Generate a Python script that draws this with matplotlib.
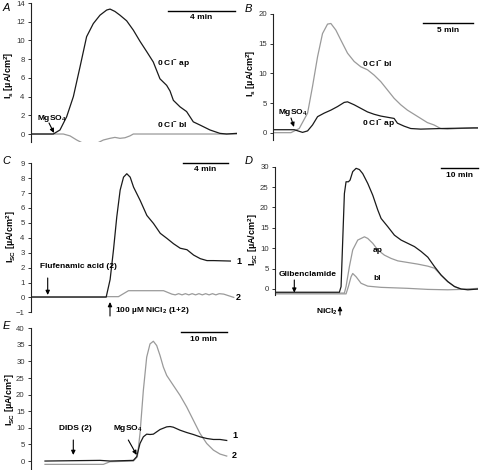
import matplotlib
matplotlib.use("Agg")
import matplotlib.pyplot as plt
from matplotlib.lines import Line2D
from matplotlib.patches import FancyArrowPatch

plt.rcParams['font.family'] = ['Liberation Sans', 'DejaVu Sans']
plt.rcParams['mathtext.fontset'] = 'custom'
plt.rcParams['mathtext.rm'] = 'Liberation Sans:bold'
plt.rcParams['mathtext.bf'] = 'Liberation Sans:bold'
plt.rcParams['mathtext.it'] = 'Liberation Sans:bold:italic'
plt.rcParams['mathtext.sf'] = 'Liberation Sans:bold'

W, H = 482, 470
BLACK = '#1a1a1a'
GRAY = '#9a9a9a'

# ---------------- Panel A ----------------
a_ap_t = [0, 1.33, 1.73, 2.13, 2.53, 2.93, 3.32, 3.72, 4.12, 4.52, 4.72, 5.01, 5.31, 5.71,
          6.11, 6.51, 6.91, 7.30, 7.70, 8.10, 8.30, 8.50, 8.90, 9.29, 9.69, 10.09, 10.69,
          11.28, 11.68, 12.28]
a_ap_v = [0, 0, 0.43, 1.85, 4.0, 7.2, 10.4, 11.8, 12.7, 13.25, 13.35, 13.1, 12.7, 12.1,
          11.1, 9.9, 8.8, 7.7, 5.9, 5.2, 4.6, 3.6, 2.9, 2.4, 1.3, 0.96, 0.43, 0.07, 0, 0.07]
a_bl_t = [0, 1.93, 2.33, 2.73, 3.12, 3.62, 3.92, 4.32, 4.72, 5.01, 5.31, 5.61, 5.91, 6.11, 12.28]
a_bl_v = [0, 0, -0.2, -0.64, -1.0, -1.18, -1.0, -0.64, -0.46, -0.36, -0.46, -0.4, -0.2, 0, 0]
a_ticks = [0, 2, 4, 6, 8, 10, 12, 14]

# ---------------- Panel B ----------------
b_bl_t = [0, 1.75, 2.57, 3.40, 3.89, 4.39, 4.88, 5.38, 5.71, 6.20, 6.70, 7.36, 8.02, 8.68,
          9.34, 10.0, 10.66, 11.32, 11.98, 12.64, 13.30, 13.96, 14.62, 15.28, 15.94, 16.60,
          17.26, 18.25, 19.9, 20.3]
b_bl_v = [0, 0, 0.7, 3.3, 7.8, 12.8, 16.7, 18.3, 18.4, 17.3, 15.6, 13.4, 12.0, 11.1,
          10.6, 9.7, 8.6, 7.2, 5.8, 4.7, 3.8, 3.1, 2.4, 1.7, 1.3, 0.7, 0.6, 0.7, 0.8, 0.8]
b_ap_t = [0, 2.08, 2.90, 3.40, 3.89, 4.39, 5.05, 5.71, 6.37, 7.03, 7.36, 8.02, 8.68, 9.34,
          10.0, 10.66, 11.32, 11.98, 12.31, 12.97, 13.63, 14.62, 16.60, 19.9, 20.3]
b_ap_v = [0.5, 0.5, 0.05, 0.3, 1.3, 2.7, 3.3, 3.8, 4.4, 5.1, 5.2, 4.7, 4.1, 3.5,
          3.1, 2.8, 2.6, 2.4, 1.6, 1.1, 0.7, 0.6, 0.7, 0.8, 0.8]
b_ticks = [0, 5, 10, 15, 20]

# ---------------- Panel C ----------------
c_1_t = [0, 6.67, 7.02, 7.32, 7.61, 7.91, 8.21, 8.50, 8.80, 9.10, 9.69, 10.28, 10.87, 11.47,
         12.06, 12.65, 13.24, 13.84, 14.43, 15.02, 15.61, 16.21, 17.69]
c_1_v = [0.02, 0.02, 1.2, 3.2, 5.4, 7.2, 8.07, 8.3, 8.07, 7.4, 6.5, 5.5, 4.96, 4.3,
         3.96, 3.6, 3.3, 3.2, 2.84, 2.6, 2.47, 2.47, 2.44]
c_2_t = [0, 7.76, 8.65, 11.76, 12.50, 12.8, 13.1, 13.4, 13.7, 14.0, 14.3, 14.6, 14.9, 15.2,
         15.5, 15.8, 16.1, 16.4, 16.7, 17.10, 17.99]
c_2_v = [0.05, 0.05, 0.45, 0.45, 0.22, 0.17, 0.25, 0.17, 0.25, 0.17, 0.25, 0.17, 0.25, 0.17,
         0.25, 0.17, 0.25, 0.17, 0.25, 0.22, 0.0]
c_ticks = [-1, 0, 1, 2, 3, 4, 5, 6, 7, 8, 9]

# ---------------- Panel D ----------------
d_k_t = [0, 17.06, 17.51, 17.95, 18.39, 18.83, 19.45, 19.89, 20.60, 21.49, 22.37, 23.25, 24.58,
         25.91, 27.23, 28.12, 29.88, 31.65, 33.42, 35.19, 36.96, 38.73, 40.50, 42.26, 44.03,
         45.80, 47.57, 49.34, 51.10, 53.93]
d_k_v = [-0.8, -0.8, 0.57, 12, 23.4, 26.3, 26.3, 26.7, 28.8, 29.6, 29.3, 28.3, 25.9,
         23, 19.4, 17.3, 15.3, 13.2, 12, 11.2, 10.4, 9.2, 7.8, 5.5, 3.4,
         1.8, 0.6, 0, -0.2, 0]
d_ap_t = [0, 18.39, 18.83, 19.72, 20.60, 21.93, 23.70, 24.58, 25.91, 27.23, 29.0, 30.77, 32.54,
          35.19, 37.84, 40.50, 42.26, 44.03, 45.80, 47.57, 49.34, 53.93]
d_ap_v = [-1.0, -1.0, 0.6, 5.5, 9.6, 12, 12.8, 12.4, 11.2, 9.6, 8.3, 7.5, 6.9,
          6.5, 6.1, 5.6, 5.1, 3.4, 1.8, 0.6, -0.1, 0]
d_bl_t = [0, 18.83, 19.45, 20.16, 20.60, 21.49, 22.81, 24.58, 28.12, 35.19, 40.50, 45.80,
          49.34, 53.93]
d_bl_v = [-1.2, -1.2, 0.6, 3.0, 3.8, 3.0, 1.4, 0.7, 0.4, 0.16, -0.1, -0.2, -0.1, 0.16]
d_ticks = [0, 5, 10, 15, 20, 25, 30]

# ---------------- Panel E ----------------
e_1_t = [3.06, 15.10, 17.29, 22.39, 23.12, 23.85, 24.58, 25.31, 26.04, 26.77, 28.23, 29.69,
         30.42, 31.14, 32.60, 34.06, 35.52, 36.98, 38.44, 39.90, 41.36, 42.82]
e_1_v = [0, 0.2, 0, 0.2, 1.3, 5.3, 7.3, 8.1, 8, 8.1, 9.5, 10.3,
         10.4, 10.2, 9.3, 8.6, 8, 7.3, 6.8, 6.5, 6.5, 6.2]
e_2_t = [3.06, 15.83, 17.29, 22.39, 23.27, 23.85, 24.58, 25.31, 26.04, 26.77, 27.50, 28.23,
         28.96, 29.69, 31.14, 32.60, 34.06, 35.52, 36.98, 38.44, 39.90, 41.36, 42.82]
e_2_v = [-1.0, -1.0, -0.2, 0, 1.3, 8.3, 21.3, 31.3, 35.3, 36.1, 34.8, 31.8,
         28.3, 25.8, 22.8, 19.8, 16.3, 12.3, 8.3, 5.3, 3.3, 2.1, 1.5]
e_ticks = [0, 5, 10, 15, 20, 25, 30, 35, 40]

fig = plt.figure(figsize=(W / 100, H / 100), dpi=100)


def fx(px):
    return px / W


def fy(py):
    return 1 - py / H


def make_ax(x0, x1, ytop, ybot, xlim, ylim, ticks):
    ax = fig.add_axes([fx(x0), fy(ybot), fx(x1) - fx(x0), fy(ytop) - fy(ybot)])
    ax.set_xlim(*xlim)
    ax.set_ylim(*ylim)
    for s in ['top', 'right', 'bottom']:
        ax.spines[s].set_visible(False)
    ax.spines['left'].set_linewidth(0.8)
    ax.spines['left'].set_color('#222222')
    ax.set_xticks([])
    ax.set_yticks(ticks)
    ax.tick_params(axis='y', labelsize=5.6, length=2.5, width=0.7, pad=2,
                   colors='#333333')
    ax.patch.set_alpha(0)
    return ax


def ftxt(px, py, s, size=6, weight='bold', ha='left', va='center', **kw):
    fig.text(fx(px), fy(py), s, fontsize=size, fontweight=weight, ha=ha, va=va, **kw)


def farrow(x0, y0, x1, y1):
    arr = FancyArrowPatch((fx(x0), fy(y0)), (fx(x1), fy(y1)), transform=fig.transFigure,
                          arrowstyle='-|>,head_length=2.5,head_width=1.2',
                          lw=0.8, color='black', shrinkA=0, shrinkB=0)
    fig.add_artist(arr)


def fbar(x0, x1, py, label):
    fig.add_artist(Line2D([fx(x0), fx(x1)], [fy(py), fy(py)], transform=fig.transFigure,
                          color='black', lw=1.0))
    ftxt((x0 + x1) / 2, py + 7, label, ha='center')


def ylab(px, py, sub='SC'):
    fig.text(fx(px), fy(py), r'I$_{\rm ' + sub + r'}$ [µA/cm$^2$]', rotation=90, fontsize=6.5,
             fontweight='bold', ha='center', va='center')


def letter(px, py, s):
    fig.text(fx(px), fy(py), s, fontsize=8, fontstyle='italic', ha='center', va='center')


# Panel A
axA = make_ax(31, 237, 3, 141.5, (0, 12.3), (-0.8, 14), a_ticks)
axA.plot(a_bl_t, a_bl_v, color=GRAY, lw=0.9)
axA.plot(a_ap_t, a_ap_v, color=BLACK, lw=0.9)
letter(6, 8, 'A')
ylab(9, 75, 's')
fbar(168, 235, 10.7, '4 min')
ftxt(157, 65, '0 Cl$^{-}$ ap')
ftxt(157, 126, '0 Cl$^{-}$ bl')
ftxt(37, 118, 'MgSO$_4$')
farrow(49, 123, 54, 133)

# Panel B
axB = make_ax(273.3, 478, 14, 139.8, (0, 20.3), (-1.2, 20), b_ticks)
axB.plot(b_bl_t, b_bl_v, color=GRAY, lw=0.9)
axB.plot(b_ap_t, b_ap_v, color=BLACK, lw=0.9)
letter(248, 9, 'B')
ylab(251.5, 73, 's')
fbar(423, 473, 23, '5 min')
ftxt(362, 65, '0 Cl$^{-}$ bl')
ftxt(362, 125, '0 Cl$^{-}$ ap')
ftxt(278, 112, 'MgSO$_4$')
farrow(291, 118, 294, 127)

# Panel C
axC = make_ax(31, 235, 163.3, 312.3, (0, 18.1), (-1, 9), c_ticks)
axC.plot(c_2_t, c_2_v, color=GRAY, lw=0.9)
axC.plot(c_1_t, c_1_v, color=BLACK, lw=0.9)
letter(6, 161, 'C')
ylab(11, 237)
fbar(183, 228, 162.7, '4 min')
ftxt(236, 262, '1', size=6.5)
ftxt(236, 298, '2', size=6.5)
ftxt(40, 267, 'Flufenamic acid (2)')
farrow(47.7, 278, 47.7, 295)
ftxt(115, 310, '100 µM NiCl$_2$ (1+2)')
farrow(110, 316, 110, 302)

# Panel D
axD = make_ax(275, 478, 166.7, 295.1, (0, 53.8), (-1.5, 30), d_ticks)
axD.plot(d_bl_t, d_bl_v, color=GRAY, lw=0.9)
axD.plot(d_ap_t, d_ap_v, color=GRAY, lw=0.9)
axD.plot(d_k_t, d_k_v, color=BLACK, lw=0.9)
letter(249, 161, 'D')
ylab(253, 240)
fbar(441, 478, 168.3, '10 min')
ftxt(373, 250, 'ap')
ftxt(373, 278, 'bl')
ftxt(279, 274, 'Glibenclamide')
farrow(294.3, 280, 294.3, 292.7)
ftxt(316, 312, 'NiCl$_2$')
farrow(340, 315, 340, 306)

# Panel E
axE = make_ax(31, 228, 328.3, 470, (0, 43.1), (-2.7, 40), e_ticks)
axE.plot(e_2_t, e_2_v, color=GRAY, lw=0.9)
axE.plot(e_1_t, e_1_v, color=BLACK, lw=0.9)
letter(6, 326, 'E')
ylab(10, 400)
fbar(181, 226.7, 332.3, '10 min')
ftxt(232, 435, '1', size=6.5)
ftxt(232, 456, '2', size=6.5)
ftxt(75, 428, 'DIDS (2)', ha='center')
farrow(73.3, 440, 73.3, 455)
ftxt(113, 428, 'MgSO$_4$')
farrow(128.3, 440, 136.7, 455)

fig.savefig('out.png', dpi=100)
